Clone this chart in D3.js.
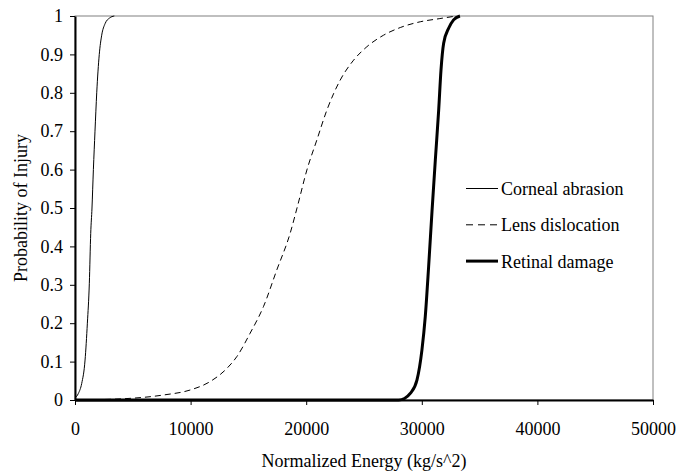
<!DOCTYPE html>
<html>
<head>
<meta charset="utf-8">
<script src="https://cdn.jsdelivr.net/npm/d3@7"></script>
<style>
  body { margin: 0; background: #fff; }
  svg text { font-family: "Times New Roman", "Liberation Serif", "DejaVu Serif", serif; }
</style>
</head>
<body>
<div id="chart"></div>
<script>
// values (energy in kg/s^2, probability 0..1)
const cornealE = [0, 290, 580, 870, 1070, 1240, 1360, 1470, 1590, 1730, 1880, 2100, 2310, 2600, 3000, 3400];
const cornealP = [0.005, 0.017, 0.043, 0.104, 0.2, 0.304, 0.434, 0.5, 0.6, 0.7, 0.8, 0.9, 0.95, 0.98, 0.995, 1];

const lensE = [0, 4000, 7650, 9960, 11690, 13130, 14000, 15150, 16300, 17460, 18610, 19250, 20060, 20920, 21790, 22940, 24100, 25250, 26690, 28140, 29870, 31500, 33000];
const lensP = [0, 0.003, 0.013, 0.026, 0.048, 0.082, 0.113, 0.174, 0.243, 0.339, 0.434, 0.505, 0.599, 0.677, 0.755, 0.833, 0.885, 0.92, 0.95, 0.97, 0.985, 0.993, 1];

const retinalE = [0, 28000, 28500, 29000, 29580, 30010, 30300, 30590, 30880, 31170, 31460, 31660, 31890, 32320, 32750, 33300];
const retinalP = [0, 0, 0.004, 0.017, 0.052, 0.13, 0.217, 0.347, 0.49, 0.625, 0.755, 0.859, 0.929, 0.968, 0.99, 1];

const seriesNames = ["Corneal abrasion", "Lens dislocation", "Retinal damage"];
const xTicks = [0, 10000, 20000, 30000, 40000, 50000];
const yTicks = [0, 0.1, 0.2, 0.3, 0.4, 0.5, 0.6, 0.7, 0.8, 0.9, 1];

const width = 686, height = 471;
const plot = { left: 75, right: 653, top: 16, bottom: 400 };
const fontFamily = "'Times New Roman', 'Liberation Serif', 'DejaVu Serif', serif";

const svg = d3.select("#chart").append("svg")
    .attr("width", width)
    .attr("height", height)
    .attr("font-family", fontFamily);

svg.append("rect").attr("width", width).attr("height", height).attr("fill", "#fff");

const x = d3.scaleLinear().domain([0, 50000]).range([plot.left, plot.right]);
const y = d3.scaleLinear().domain([0, 1]).range([plot.bottom, plot.top]);

// plot area frame
svg.append("rect")
    .attr("x", plot.left).attr("y", plot.top)
    .attr("width", plot.right - plot.left).attr("height", plot.bottom - plot.top)
    .attr("fill", "none").attr("stroke", "#808080").attr("stroke-width", 1);

const series = [
    { name: seriesNames[0], e: cornealE, p: cornealP, w: 1, dash: null },
    { name: seriesNames[1], e: lensE, p: lensP, w: 1, dash: "6,4" },
    { name: seriesNames[2], e: retinalE, p: retinalP, w: 3, dash: null }
];

const line = d3.line()
    .x(d => x(d[0]))
    .y(d => y(d[1]))
    .curve(d3.curveMonotoneX);

series.forEach(s => {
    svg.append("path")
        .datum(s.e.map((v, i) => [v, s.p[i]]))
        .attr("d", line)
        .attr("fill", "none")
        .attr("stroke", "#000")
        .attr("stroke-width", s.w)
        .attr("stroke-dasharray", s.dash);
});

// axes
const xAxis = svg.append("g")
    .attr("transform", `translate(0,${plot.bottom})`)
    .call(d3.axisBottom(x).tickValues(xTicks).tickFormat(d3.format("d")).tickSize(5).tickSizeOuter(0).tickPadding(17));

const yAxis = svg.append("g")
    .attr("transform", `translate(${plot.left},0)`)
    .call(d3.axisLeft(y).tickValues(yTicks).tickFormat(d => d === 0 || d === 1 ? d3.format("d")(d) : d3.format(".1f")(d)).tickSize(5).tickSizeOuter(0).tickPadding(7));

[xAxis, yAxis].forEach(g => {
    g.attr("font-family", fontFamily).attr("font-size", 18);
    g.select(".domain").attr("stroke", "#000").attr("stroke-width", 2);
    g.selectAll(".tick line").attr("stroke", "#000").attr("stroke-width", 1);
    g.selectAll(".tick text").attr("fill", "#000");
});

// axis titles
svg.append("text")
    .attr("x", (plot.left + plot.right) / 2)
    .attr("y", 467)
    .attr("text-anchor", "middle")
    .attr("font-size", 18)
    .text("Normalized Energy (kg/s^2)");

svg.append("text")
    .attr("transform", `translate(27,${(plot.top + plot.bottom) / 2}) rotate(-90)`)
    .attr("text-anchor", "middle")
    .attr("font-size", 18)
    .text("Probability of Injury");

// legend
const legend = svg.append("g").attr("transform", "translate(466,195)");
series.forEach((s, i) => {
    const row = legend.append("g").attr("transform", `translate(0,${i * 36.3})`);
    row.append("line")
        .attr("x1", 0).attr("x2", 32)
        .attr("y1", -6.5).attr("y2", -6.5)
        .attr("stroke", "#000")
        .attr("stroke-width", s.w)
        .attr("stroke-dasharray", s.dash ? "7,5" : null);
    row.append("text")
        .attr("x", 35)
        .attr("y", 0)
        .attr("font-size", 18)
        .text(s.name);
});
</script>
</body>
</html>
